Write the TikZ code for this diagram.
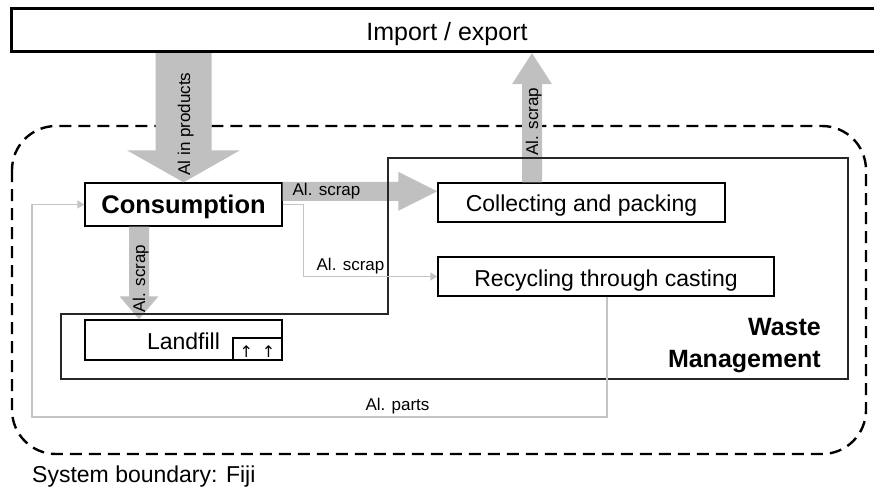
\documentclass[tikz,border=0pt]{standalone}
\usepackage{fontspec}
\setmainfont{Liberation Sans}
\newfontfamily\arrowfont{DejaVu Sans}
\usetikzlibrary{arrows.meta,calc}
\definecolor{fatgray}{HTML}{C0C0C0}
\definecolor{thingray}{HTML}{C4C4C4}
\newcommand\fsz[1]{\fontsize{#1pt}{#1pt}\selectfont}
\begin{document}
\begin{tikzpicture}[x=1pt,y=-1pt,
  box/.style={draw=black, line width=1.4pt, fill=white, inner sep=0pt, text depth=0pt},
  lbl/.style={inner sep=0pt, font=\fsz{17}, text height=12.2pt, text depth=0pt},
  thinline/.style={draw=thingray, line width=1.3pt},
  thinarrow/.style={thinline, -{Triangle[length=7pt,width=8pt]}},
  boundary/.style={draw=black, line width=2.4pt, dash pattern=on 12pt off 7pt, rounded corners=44pt},
  wmline/.style={draw=black!85, line width=1.3pt},
  fatarrow/.style={fill=fatgray}
]
\clip (0,0) rectangle (874,488);

% system boundary
\draw[boundary] (12,126) rectangle (866,454);

% boxes
\node[draw=black, line width=3pt, fill=white, minimum width=872pt, minimum height=43.4pt,
      inner sep=0pt, text height=21.3pt, text depth=0pt, font=\fsz{25}] (imp) at (447,30) {Import / export};
\node[box, minimum width=197pt, minimum height=43pt, text height=18.5pt, font=\fsz{25.5}\bfseries] (cons) at (183.5,204.5) {Consumption};
\node[box, minimum width=287pt, minimum height=39pt, text height=18.5pt, font=\fsz{23}] (collect) at (581.5,202.5) {Collecting and packing};
\node[box, minimum width=336pt, minimum height=39pt, text height=20pt, font=\fsz{23}] (recyc) at (606,276.5) {Recycling through casting};
\node[box, minimum width=197pt, minimum height=40pt, text height=18.5pt, font=\fsz{23}] (landfill) at (183.5,340) {Landfill};
\node[box, line width=1.2pt, minimum width=49pt, minimum height=22pt, text height=16pt, font=\fsz{16}\arrowfont] (lfsmall) at (257.5,349) {↑\hspace{9pt}↑};

% fat arrows
\coordinate (impS) at (imp.south -| cons.north);
\coordinate (impT) at (cons.north);
\fill[fatarrow] ($(impS)+(-28,0)$) -- ($(impT)+(-28,-32)$) -- ($(impT)+(-56.5,-32)$) -- (impT)
  -- ($(impT)+(56.5,-32)$) -- ($(impT)+(28,-32)$) -- ($(impS)+(28,0)$) -- cycle;

\coordinate (expS) at ($(collect.north west)+(94.7,0)$);
\coordinate (expT) at (imp.south -| expS);
\fill[fatarrow] ($(expS)+(-10,0)$) -- ($(expT)+(-10,31)$) -- ($(expT)+(-20,31)$) -- (expT)
  -- ($(expT)+(20,31)$) -- ($(expT)+(10,31)$) -- ($(expS)+(10,0)$) -- cycle;

\coordinate (horS) at ($(cons.north east)+(0,9)$);
\coordinate (horT) at (collect.west |- horS);
\fill[fatarrow] ($(horS)+(0,-9.5)$) -- ($(horT)+(-39,-9.5)$) -- ($(horT)+(-39,-19.5)$) -- (horT)
  -- ($(horT)+(-39,19.5)$) -- ($(horT)+(-39,9.5)$) -- ($(horS)+(0,9.5)$) -- cycle;

\coordinate (dwnS) at ($(cons.south west)+(54.7,0)$);
\coordinate (dwnT) at (landfill.north -| dwnS);
\fill[fatarrow] ($(dwnS)+(-10,0)$) -- ($(dwnT)+(-10,-23)$) -- ($(dwnT)+(-19.5,-23)$) -- (dwnT)
  -- ($(dwnT)+(19.5,-23)$) -- ($(dwnT)+(10,-23)$) -- ($(dwnS)+(10,0)$) -- cycle;

% waste management region
\draw[wmline] (388,158) -- (848,158) -- (848,379) -- (61,379) -- (61,314) -- (388,314) -- cycle;

% thin flows
\draw[thinarrow] (cons.east) -- ++(21,0) |- (recyc.west);
\coordinate (pr) at (607,417);
\coordinate (pl) at (32,417);
\draw[thinarrow] (recyc.south -| pr) -- (pr) -- (pl) |- (cons.west);

% labels
\node[lbl, rotate=90] (lblimp) at (184,124) {Al in products};
\node[lbl, rotate=90] (lblexp) at (532,121.5) {Al. scrap};
\node[lbl] (lblh) at (326.5,189) {Al. scrap};
\node[lbl, rotate=90] (lbldown) at (139,278.5) {Al. scrap};
\node[lbl] (lblthin) at (350.5,264) {Al. scrap};
\node[lbl] (lblparts) at (397.5,404) {Al. parts};

\node[anchor=north east, align=right, inner sep=0pt, font=\fontsize{25pt}{32pt}\selectfont\bfseries] (wm) at (821,318) {Waste\\Management};
\node[anchor=base west, inner sep=0pt, font=\fsz{23}] (sysb) at (32,482) {System boundary: Fiji};
\end{tikzpicture}
\end{document}
